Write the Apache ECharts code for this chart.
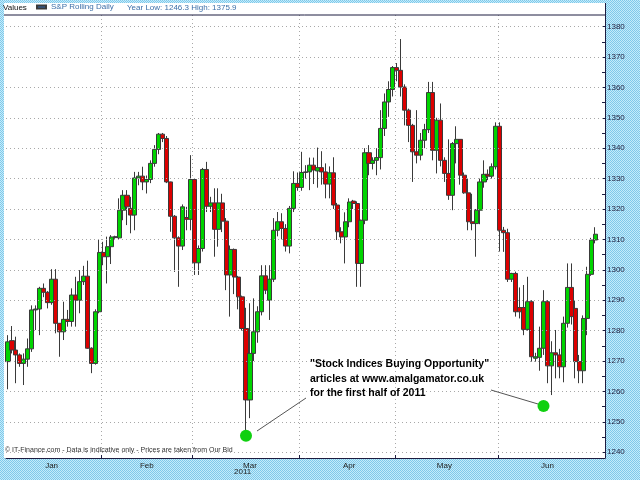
<!DOCTYPE html>
<html><head><meta charset="utf-8">
<script src="https://cdn.jsdelivr.net/npm/echarts@6/dist/echarts.min.js"></script>
<style>html,body{margin:0;padding:0;background:#a2dcf2}#c{width:640px;height:480px}</style>
</head><body><div id="c"></div>
<script>
// ---- data ----
const opens = [1269.8,1276.7,1273.6,1272.0,1269.2,1270.6,1274.0,1286.8,1287.1,1293.9,1292.6,1289.2,1296.9,1282.4,1279.6,1283.7,1283.0,1291.7,1290.0,1296.1,1297.9,1274.2,1269.2,1286.2,1305.7,1304.3,1307.6,1310.6,1310.5,1319.6,1324.5,1320.2,1318.0,1330.2,1330.8,1328.9,1329.7,1335.0,1339.6,1344.6,1343.2,1328.9,1317.6,1310.5,1307.8,1317.2,1316.6,1329.7,1302.3,1307.0,1333.0,1320.9,1322.0,1313.3,1322.0,1316.0,1298.3,1306.7,1297.6,1291.1,1280.7,1257.2,1272.5,1279.6,1286.2,1298.0,1290.0,1296.9,1313.0,1315.8,1313.6,1307.8,1320.2,1328.4,1327.1,1332.0,1332.2,1334.4,1332.5,1333.6,1332.2,1328.2,1331.9,1321.3,1312.5,1310.8,1315.8,1322.6,1321.8,1302.1,1316.3,1338.5,1335.0,1336.0,1336.9,1346.5,1355.2,1359.3,1366.5,1365.6,1360.1,1352.5,1347.5,1338.8,1337.7,1342.6,1346.1,1358.3,1339.3,1349.2,1336.0,1331.7,1324.5,1341.5,1342.9,1331.1,1325.3,1315.8,1315.2,1319.6,1328.9,1331.4,1330.8,1333.9,1347.2,1313.0,1312.2,1296.9,1298.8,1287.6,1287.6,1280.4,1289.5,1270.9,1271.2,1274.2,1289.5,1268.4,1272.7,1272.0,1268.1,1282.4,1294.2,1287.3,1269.8,1266.8,1284.0,1298.5,1309.8];
const closes = [1276.3,1273.6,1272.0,1269.2,1270.6,1274.0,1286.8,1287.1,1293.9,1292.6,1289.2,1296.9,1282.4,1279.6,1283.7,1283.0,1291.7,1290.0,1296.1,1297.9,1274.2,1269.2,1286.2,1305.7,1304.3,1307.6,1310.8,1310.9,1319.6,1324.5,1320.7,1318.0,1330.2,1330.8,1328.9,1329.7,1335.0,1339.6,1344.6,1343.2,1328.9,1317.6,1310.5,1307.8,1320.7,1316.6,1329.7,1302.3,1307.0,1333.0,1320.9,1322.0,1313.3,1322.0,1316.0,1298.3,1306.7,1297.6,1291.1,1280.7,1257.2,1272.5,1279.6,1286.2,1298.0,1293.3,1296.9,1313.0,1315.8,1313.6,1307.8,1320.2,1328.4,1327.1,1332.0,1332.2,1334.4,1332.8,1333.6,1332.2,1328.2,1331.9,1321.3,1312.5,1310.8,1315.8,1322.3,1321.8,1302.1,1316.3,1338.5,1335.0,1336.0,1336.9,1346.5,1355.2,1359.3,1366.5,1365.6,1360.1,1352.5,1347.5,1338.8,1337.7,1342.6,1346.1,1358.3,1339.3,1349.2,1336.0,1331.7,1324.5,1341.5,1342.9,1331.1,1325.3,1315.8,1315.2,1319.6,1328.9,1331.4,1330.8,1333.9,1347.2,1313.0,1312.2,1296.9,1298.8,1286.2,1286.2,1280.4,1289.5,1271.4,1271.4,1274.2,1289.5,1268.4,1272.7,1272.0,1268.1,1282.4,1294.2,1284.6,1269.8,1266.8,1284.0,1298.5,1309.8,1311.7];
const lows = [1260.7,1272.5,1262.7,1268.1,1262.1,1268.1,1273.0,1280.2,1278.5,1291.0,1287.3,1288.5,1279.1,1271.4,1276.9,1281.3,1281.3,1281.3,1285.7,1295.0,1274.0,1266.0,1268.8,1285.7,1301.5,1295.5,1301.9,1310.2,1310.0,1316.3,1314.7,1312.0,1313.0,1327.8,1326.2,1325.1,1328.5,1333.9,1338.0,1342.0,1328.5,1312.5,1299.3,1294.4,1306.5,1313.0,1313.0,1298.3,1298.3,1306.0,1319.0,1319.0,1304.3,1307.6,1312.4,1293.3,1284.6,1292.0,1287.0,1280.0,1246.3,1251.2,1270.0,1276.0,1285.0,1292.0,1283.5,1296.0,1311.0,1310.0,1306.0,1305.4,1319.0,1326.0,1326.0,1330.0,1326.2,1328.2,1327.0,1328.0,1323.5,1323.5,1320.0,1309.8,1308.7,1302.1,1314.0,1320.0,1294.4,1294.4,1315.0,1331.1,1333.0,1331.1,1333.0,1344.0,1350.3,1357.0,1362.0,1357.0,1347.5,1342.0,1328.9,1335.0,1336.0,1340.0,1345.0,1336.0,1331.7,1334.0,1328.9,1323.0,1319.6,1335.0,1328.0,1325.0,1313.0,1313.0,1304.3,1315.0,1327.0,1329.5,1330.0,1333.0,1306.0,1305.9,1296.0,1296.0,1284.6,1284.0,1278.5,1280.0,1269.8,1269.8,1266.8,1272.0,1262.7,1258.8,1264.3,1264.3,1263.0,1281.0,1282.0,1264.3,1262.7,1262.7,1278.5,1298.0,1308.7];
const highs = [1278.5,1281.5,1278.0,1272.5,1272.5,1277.4,1288.3,1288.3,1294.4,1295.5,1293.0,1300.2,1300.2,1282.5,1289.5,1286.8,1293.9,1297.7,1299.9,1301.3,1303.0,1274.5,1287.0,1309.8,1309.2,1310.9,1311.4,1311.2,1323.5,1326.2,1326.2,1324.0,1332.2,1332.2,1333.9,1331.0,1336.0,1341.0,1345.0,1345.0,1344.0,1329.0,1318.0,1311.0,1321.5,1320.7,1337.7,1330.0,1308.0,1333.5,1335.5,1324.0,1326.8,1326.8,1325.0,1317.0,1308.0,1307.0,1298.0,1291.5,1287.5,1289.0,1290.6,1288.0,1301.5,1301.5,1301.5,1317.0,1319.0,1318.6,1315.0,1321.0,1332.4,1332.0,1338.8,1334.4,1336.9,1336.9,1340.2,1339.0,1335.0,1334.0,1337.0,1322.0,1314.0,1318.9,1323.5,1323.0,1322.5,1316.5,1340.0,1341.0,1337.0,1340.0,1352.5,1358.0,1362.0,1367.0,1368.0,1375.9,1361.0,1353.0,1348.0,1352.5,1345.0,1348.0,1361.8,1361.8,1350.0,1354.7,1337.0,1342.9,1342.0,1347.2,1343.0,1332.0,1330.0,1325.0,1320.0,1330.0,1336.0,1333.0,1335.0,1348.5,1348.5,1314.1,1313.5,1299.0,1299.4,1294.2,1295.0,1297.7,1290.0,1272.7,1281.3,1293.3,1290.0,1276.5,1280.2,1274.0,1284.6,1302.1,1302.1,1290.0,1272.0,1285.0,1301.0,1310.5,1314.0];
const slotCount = 151;                       // trading-day slots on the axis (last two empty)
const monthNames = ['Jan','Feb','Mar','Apr','May','Jun'];
const monthLabelIdx = [11,35,61,86,110,136];  // slot where each month name sits
const monthStarts = [24,47,74,98,124];       // first slot of Feb..Jun
const yTickLabels = [1240,1250,1260,1270,1280,1290,1300,1310,1320,1330,1340,1350,1360,1370,1380];
const yMinorTicks = [1240,1245,1250,1255,1260,1265,1270,1275,1280,1285,1290,1295,1300,1305,1310,1315,1320,1325,1330,1335,1340,1345,1350,1355,1360,1365,1370,1375,1380];
const lastPrice = 1311.7;
const highlightDots = [[60,1245.4],[135,1255.2]];
const seriesName = 'S&P Rolling Daily';
const yearLow = 1246.3, yearHigh = 1375.9;

// ---- build ----
const categories = [];
for (let i = 0; i < slotCount; i++) {
  const m = monthLabelIdx.indexOf(i);
  categories.push(m >= 0 ? monthNames[m] : ' ' + i);
}
const ohlc = opens.map((o, i) => [o, closes[i], lows[i], highs[i]]);

// checkered background pattern
const pc = document.createElement('canvas'); pc.width = 2; pc.height = 2;
const pctx = pc.getContext('2d');
pctx.fillStyle = '#c4ecfa'; pctx.fillRect(0,0,2,2);
pctx.fillStyle = '#80c8ea'; pctx.fillRect(0,0,1,1); pctx.fillRect(1,1,1,1);

const font = 'Liberation Sans, Arial, sans-serif';
const chart = echarts.init(document.getElementById('c'), null, {renderer: 'canvas'});
chart.setOption({
  animation: false,
  backgroundColor: {image: pc, repeat: 'repeat'},
  textStyle: {fontFamily: font},
  legend: {
    data: [{name: seriesName, icon: 'rect', itemStyle: {color: '#2f64a8'}}],
    left: 36, top: 3, padding: 0, itemWidth: 9, itemHeight: 3, itemGap: 4,
    textStyle: {fontSize: 8, color: '#3d6fa8', fontFamily: font}, selectedMode: false
  },
  grid: {left: 6, right: 35, top: 15, bottom: 22},
  xAxis: {
    type: 'category', data: categories, boundaryGap: true,
    axisLine: {show: true, lineStyle: {color: '#1c1c40', width: 1}},
    axisTick: {show: true, inside: true, length: 3, interval: (i) => monthStarts.includes(i), lineStyle: {color: '#1c1c40'}},
    axisLabel: {interval: 0, margin: 4, fontSize: 8, color: '#222', fontFamily: font,
      formatter: (v) => monthNames.includes(v) ? v : ''},
    splitLine: {show: true, interval: (i) => monthStarts.includes(i), lineStyle: {type: [1,3], color: '#a8a8a8', width: 1}}
  },
  yAxis: {
    type: 'value', position: 'right', min: 1238.1, max: 1383.8, scale: true,
    axisLine: {show: true, lineStyle: {color: '#1c1c40', width: 1}},
    axisTick: {show: true, inside: true, length: 3, customValues: yMinorTicks, lineStyle: {color: '#1c1c40'}},
    axisLabel: {margin: 2, fontSize: 8, color: '#222240', fontFamily: font, customValues: yTickLabels,
      formatter: (v) => String(Math.round(v))},
    splitLine: {show: false}
  },
  graphic: [
    {type: 'rect', z: -10, silent: true, shape: {x: 4, y: 3, width: 601, height: 455}, style: {fill: '#fff'}},
    {type: 'line', z: 10, silent: true, shape: {x1: 4, y1: 15, x2: 605, y2: 15}, style: {stroke: '#1c1c40', lineWidth: 1}},
    {type: 'line', z: 10, silent: true, shape: {x1: 605.5, y1: 3, x2: 605.5, y2: 15}, style: {stroke: '#1c1c40', lineWidth: 1}},
    {type: 'text', z: 10, left: 3, top: 4, style: {text: 'Values', font: '8px ' + font, fill: '#111'}},
    {type: 'text', z: 10, left: 127, top: 4, style: {text: 'Year Low: ' + yearLow + ' High: ' + yearHigh, font: '8px ' + font, fill: '#3d6fa8'}},
    {type: 'text', z: 10, left: 5, top: 447, style: {text: '\u00a9 IT-Finance.com - Data is indicative only - Prices are taken from Our Bid', font: '7px ' + font, fill: '#333'}},
    {type: 'text', z: 10, left: 234, top: 468, style: {text: '2011', font: '8px ' + font, fill: '#222'}},
    {type: 'text', z: 10, left: 310, top: 357, style: {text: '"Stock Indices Buying Opportunity"\narticles at www.amalgamator.co.uk\nfor the first half of 2011', font: 'bold 10.5px ' + font, fill: '#000', lineHeight: 14.5}},
    {type: 'line', z: 10, silent: true, shape: {x1: 306, y1: 398, x2: 257, y2: 431}, style: {stroke: '#555', lineWidth: 1}},
    {type: 'line', z: 10, silent: true, shape: {x1: 491, y1: 390, x2: 538, y2: 404}, style: {stroke: '#555', lineWidth: 1}}
  ],
  series: [
    {
      name: seriesName, type: 'candlestick', data: ohlc, barWidth: 4.6,
      itemStyle: {color: '#00d400', color0: '#dc0000', borderColor: '#3a3a3a', borderColor0: '#3a3a3a', borderWidth: 1},
      markLine: {
        silent: true, symbol: ['none','none'],
        lineStyle: {type: [1,3], color: '#a8a8a8', width: 1},
        label: {show: false},
        data: yTickLabels.map(v => ({yAxis: v})).concat([{
          yAxis: lastPrice, lineStyle: {opacity: 0},
          label: {show: true, position: 'end', distance: 1, formatter: String(lastPrice), fontSize: 8, color: '#000',
            backgroundColor: '#ffc800', borderColor: '#666', borderWidth: 1, padding: [2, 2, 1, 2], fontFamily: font}
        }])
      }
    },
    {
      name: 'dots', type: 'scatter', data: highlightDots, symbolSize: 12, z: 5,
      itemStyle: {color: '#10d010', opacity: 1}
    }
  ]
});
</script></body></html>
